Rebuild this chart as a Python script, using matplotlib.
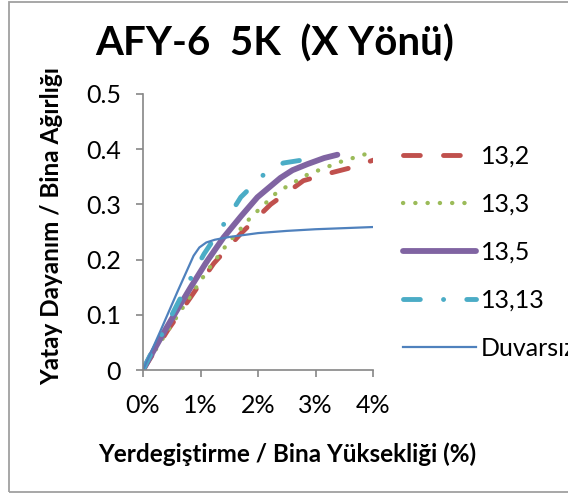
import matplotlib
matplotlib.use("Agg")
import matplotlib.pyplot as plt
from matplotlib.patches import Rectangle

plt.rcParams['font.family'] = ['Lato', 'DejaVu Sans']

# displacement (%) vs base shear / weight
x_132 = [0, 0.43, 0.83, 1.23, 1.7, 2.22, 2.79, 3.3, 3.6, 4.03]
y_132 = [0, 0.072, 0.132, 0.193, 0.247, 0.300, 0.343, 0.358, 0.366, 0.381]

x_133 = [0, 0.3, 0.66, 1.12, 1.47, 1.87, 2.33, 2.86, 3.43, 3.9]
y_133 = [0, 0.05, 0.108, 0.180, 0.229, 0.276, 0.322, 0.354, 0.377, 0.392]

x_135 = [0, 0.2, 0.4, 0.83, 1.1, 1.4, 1.7, 1.99, 2.39, 2.6, 2.86, 3.15, 3.38]
y_135 = [0, 0.038, 0.075, 0.150, 0.195, 0.240, 0.278, 0.313, 0.348, 0.362, 0.373, 0.384, 0.390]

x_1313 = [0, 0.14, 0.33, 0.6, 0.83, 1.06, 1.41, 1.7, 2.09, 2.44, 2.75]
y_1313 = [0, 0.03, 0.065, 0.12, 0.166, 0.21, 0.265, 0.313, 0.353, 0.375, 0.380]

x_duv = [0, 0.3, 0.6, 0.88, 0.98, 1.1, 1.25, 1.5, 2.0, 2.5, 3.0, 3.5, 4.0]
y_duv = [0, 0.07, 0.142, 0.207, 0.222, 0.231, 0.236, 0.241, 0.248, 0.252, 0.255, 0.257, 0.259]

labels = ['13,2', '13,3', '13,5', '13,13', 'Duvarsız']
x_ticks = [0, 1, 2, 3, 4]
y_ticks = [0, 0.1, 0.2, 0.3, 0.4, 0.5]

W, H = 568, 494
fig = plt.figure(figsize=(W / 100, H / 100), dpi=100)
ax = fig.add_axes([143 / W, 1 - 370 / H, 230 / W, 276 / H])

grey = '#868686'

ax.plot(x_132, y_132, color='#C0504D', lw=3.5, dashes=(3.46, 4.77),
        dash_capstyle='round', solid_capstyle='round')
ax.plot(x_133, y_133, color='#9BBB59', lw=3.1, dashes=(0.05, 2.8),
        dash_capstyle='round')
ax.plot(x_135, y_135, color='#8064A2', lw=4.2, solid_capstyle='round')
ax.plot(x_1313, y_1313, color='#4BACC6', lw=3.5, dashes=(3.46, 4.77, 0.02, 4.77),
        dash_capstyle='round')
ax.plot(x_duv, y_duv, color='#4F81BD', lw=1.6)

ax.set_xlim(0, 4)
ax.set_ylim(0, 0.5)
ax.set_xticks(x_ticks)
ax.set_xticklabels([f'{v}%' for v in x_ticks])
ax.set_yticks(y_ticks)
ax.set_yticklabels(['0', '0.1', '0.2', '0.3', '0.4', '0.5'])
ax.tick_params(axis='both', direction='out', length=5, width=1.2, color=grey,
               labelsize=18)
ax.tick_params(axis='y', pad=11)
ax.tick_params(axis='x', pad=12)
for s in ['top', 'right']:
    ax.spines[s].set_visible(False)
for s in ['left', 'bottom']:
    ax.spines[s].set_color(grey)
    ax.spines[s].set_linewidth(1.2)

leg = ax.legend(labels, loc='upper left', bbox_to_anchor=(403 / W, 1 - 145 / H),
                bbox_transform=fig.transFigure, frameon=False, fontsize=18,
                handlelength=2.92, handletextpad=0.2, labelspacing=1.0,
                borderaxespad=0, borderpad=0)

fig.text(275 / W, 1 - 44 / H, 'AFY-6  5K  (X Yönü)', fontsize=29,
         fontweight='bold', ha='center', va='center')
fig.text(287 / W, 1 - 454 / H, 'Yerdegiştirme / Bina Yüksekliği (%)',
         fontsize=17.5, fontweight='bold', ha='center', va='center')
fig.text(52 / W, 1 - 226 / H, 'Yatay Dayanım / Bina Ağırlığı',
         fontsize=17.5, fontweight='bold', ha='center', va='center', rotation=90)

fig.patches.append(Rectangle((9 / W, 2 / H), 1.2, 1 - 4 / H,
                             transform=fig.transFigure, fill=False,
                             edgecolor='#A0A0A0', lw=1.3))

fig.savefig('out.png', dpi=100)
